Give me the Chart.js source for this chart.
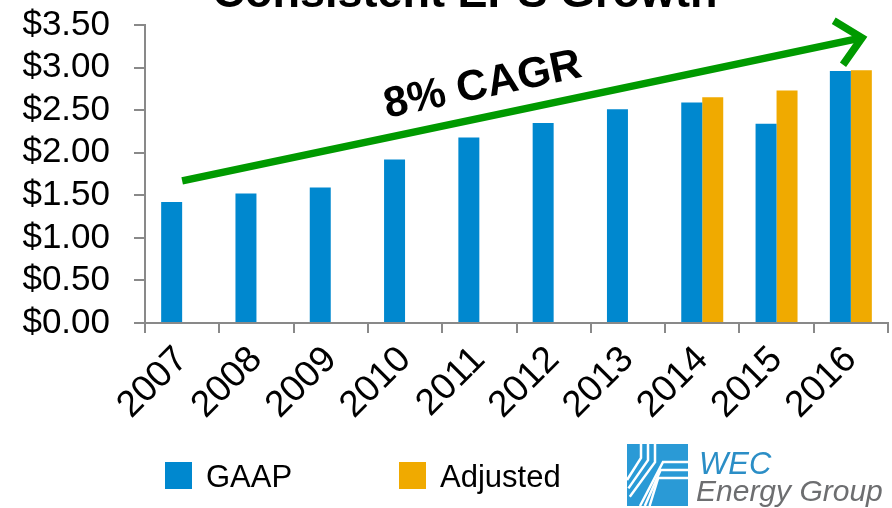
<!DOCTYPE html>
<html>
<head>
<meta charset="utf-8">
<script src="https://cdn.jsdelivr.net/npm/chart.js@4.4.1/dist/chart.umd.min.js"></script>
<style>
  body { margin: 0; background: #fff; }
  #wrap { width: 892px; height: 508px; }
</style>
</head>
<body>
<div id="wrap"><canvas id="epsChart" width="892" height="508"></canvas></div>
<script>
// EPS per year
const years = ['2007', '2008', '2009', '2010', '2011', '2012', '2013', '2014', '2015', '2016'];
const gaapEps = [1.42, 1.52, 1.59, 1.92, 2.18, 2.35, 2.51, 2.59, 2.34, 2.96];
const adjustedEps = [null, null, null, null, null, null, null, 2.65, 2.73, 2.97];
const seriesNames = ['GAAP', 'Adjusted'];
const seriesColors = ['#0088cf', '#f0aa00'];

// CAGR arrow, given in data units (category index, $)
const arrowFrom = [0, 1.67];
const arrowTo = [9.15, 3.35];
const arrowText = '8% CAGR';
const arrowTextAt = [4.08, 2.65];

const chartTitle = 'Consistent EPS Growth';
const fontFamily = "Arial, 'Liberation Sans', sans-serif";
const axisGray = '#898989';

// arrow, title, legend and logo drawn on top of the chart
const overlay = {
    id: 'overlay',
    afterDatasetsDraw(chart) {
        const ctx = chart.ctx;
        const xs = chart.scales.x, ys = chart.scales.y;
        const x0 = xs.getPixelForValue(arrowFrom[0]), y0 = ys.getPixelForValue(arrowFrom[1]);
        const x1 = xs.getPixelForValue(arrowTo[0]), y1 = ys.getPixelForValue(arrowTo[1]);
        const ang = Math.atan2(y1 - y0, x1 - x0);

        ctx.save();
        ctx.strokeStyle = '#009a00';
        ctx.lineWidth = 7.5;
        ctx.lineJoin = 'miter';
        ctx.beginPath();
        ctx.moveTo(x0, y0);
        ctx.lineTo(x1 - 3 * Math.cos(ang), y1 - 3 * Math.sin(ang));
        ctx.stroke();
        // open arrow head
        const headLen = 33, spread = 0.75;
        ctx.beginPath();
        ctx.moveTo(x1 - headLen * Math.cos(ang - spread), y1 - headLen * Math.sin(ang - spread));
        ctx.lineTo(x1, y1);
        ctx.lineTo(x1 - headLen * Math.cos(ang + spread), y1 - headLen * Math.sin(ang + spread));
        ctx.stroke();

        // CAGR label along the arrow
        const tx = xs.getPixelForValue(arrowTextAt[0]), ty = ys.getPixelForValue(arrowTextAt[1]);
        ctx.translate(tx, ty);
        ctx.rotate(ang);
        ctx.fillStyle = '#000';
        ctx.font = 'bold 43px ' + fontFamily;
        ctx.textAlign = 'center';
        ctx.textBaseline = 'alphabetic';
        ctx.fillText(arrowText, 0, 0);
        ctx.restore();
    },
    afterDraw(chart) {
        const ctx = chart.ctx;
        ctx.save();
        // title, mostly cut off by the top edge
        ctx.fillStyle = '#000';
        ctx.font = 'bold 45px ' + fontFamily;
        ctx.textAlign = 'center';
        ctx.textBaseline = 'alphabetic';
        ctx.fillText(chartTitle, 465, 7);

        // legend
        const items = chart.data.datasets.map(ds => ({ label: ds.label, color: ds.backgroundColor }));
        const legendX = [165, 399];
        ctx.font = '31px ' + fontFamily;
        ctx.textAlign = 'left';
        items.forEach((it, i) => {
            ctx.fillStyle = it.color;
            ctx.fillRect(legendX[i], 462, 27, 27);
            ctx.fillStyle = '#000';
            ctx.fillText(it.label, legendX[i] + 41, 487);
        });

        // WEC logo
        ctx.fillStyle = '#2a9ad6';
        ctx.fillRect(627, 444, 61, 62);
        ctx.strokeStyle = '#fff';
        ctx.lineWidth = 2.5;
        [0, 7, 14].forEach(d => {
            ctx.beginPath();
            ctx.moveTo(641 + d, 444);
            ctx.lineTo(641 + d, 458 + d * 0.3);
            ctx.lineTo(627 + d * 0.2, 480 + d * 1.2);
            ctx.stroke();
        });
        [0, 8, 16].forEach(d => {
            ctx.beginPath();
            ctx.moveTo(688, 462 + d);
            ctx.lineTo(663 - d * 0.3, 462 + d);
            ctx.lineTo(640 + d * 0.6, 506);
            ctx.stroke();
        });
        ctx.fillStyle = '#2b8ec6';
        ctx.font = 'italic 31px ' + fontFamily;
        ctx.fillText('WEC', 699, 474);
        ctx.fillStyle = '#6d6e70';
        ctx.font = 'italic 30px ' + fontFamily;
        ctx.fillText('Energy Group', 696, 501);
        ctx.restore();
    }
};

const ctx = document.getElementById('epsChart').getContext('2d');
new Chart(ctx, {
    type: 'bar',
    data: {
        labels: years,
        datasets: [
            {
                label: seriesNames[0],
                data: gaapEps,
                backgroundColor: seriesColors[0],
                categoryPercentage: 0.565,
                barPercentage: 1.0
            },
            {
                label: seriesNames[1],
                data: adjustedEps,
                backgroundColor: seriesColors[1],
                categoryPercentage: 0.565,
                barPercentage: 1.0
            }
        ]
    },
    options: {
        responsive: false,
        animation: false,
        layout: { padding: { top: 25, left: 0, right: 4, bottom: 0 } },
        plugins: {
            legend: { display: false },
            tooltip: { enabled: false }
        },
        scales: {
            x: {
                offset: true,
                grid: {
                    offset: true,
                    drawOnChartArea: false,
                    drawTicks: true,
                    tickLength: 10,
                    color: axisGray,
                    lineWidth: 2
                },
                border: { color: axisGray, width: 2 },
                ticks: {
                    minRotation: 45,
                    maxRotation: 45,
                    autoSkip: false,
                    color: '#000',
                    padding: 5,
                    font: { size: 37, family: fontFamily }
                },
                afterFit: scale => { scale.height = 185; }
            },
            y: {
                min: 0,
                max: 3.5,
                grid: {
                    drawOnChartArea: false,
                    drawTicks: true,
                    tickLength: 11,
                    color: axisGray,
                    lineWidth: 2
                },
                border: { color: axisGray, width: 2 },
                ticks: {
                    stepSize: 0.5,
                    autoSkip: false,
                    color: '#000',
                    padding: 24,
                    font: { size: 35, family: fontFamily },
                    callback: v => '$' + v.toFixed(2)
                },
                afterFit: scale => {
                    scale.width = 145;
                    scale.paddingTop = 0;
                    scale.paddingBottom = 0;
                }
            }
        }
    },
    plugins: [overlay]
});
</script>
</body>
</html>
